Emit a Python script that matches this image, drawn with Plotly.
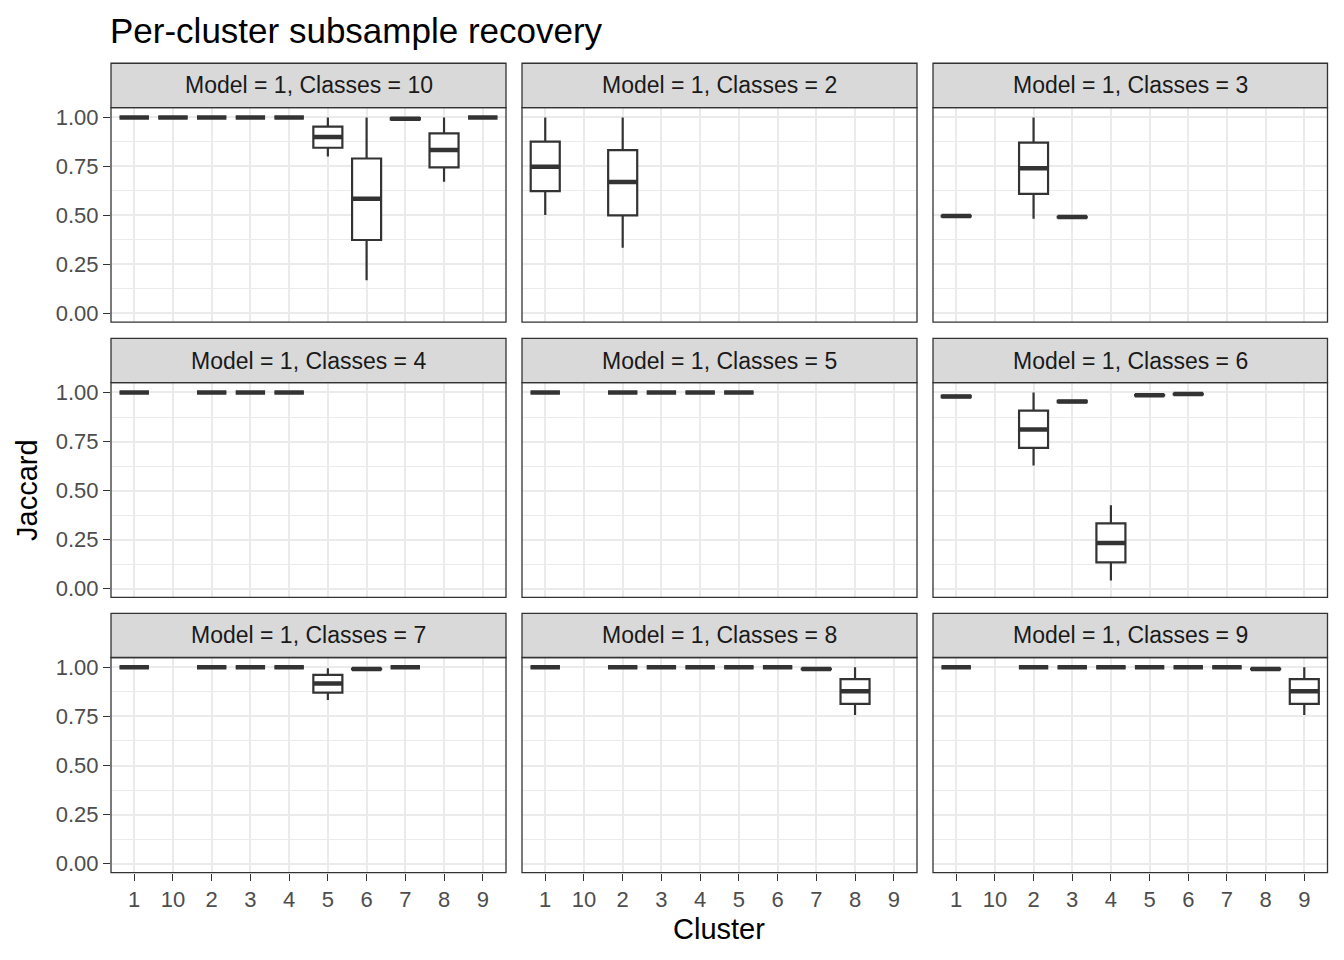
import plotly.graph_objects as go

OFF = 8  # page body margin in the browser
W, H = 1344 - 2 * OFF, 960 - 2 * OFF

categories = ["1", "10", "2", "3", "4", "5", "6", "7", "8", "9"]
panel_classes = [10, 2, 3, 4, 5, 6, 7, 8, 9]
y_tickvals = [0.0, 0.25, 0.5, 0.75, 1.0]
y_ticktext = ["0.00", "0.25", "0.50", "0.75", "1.00"]
y_minor = [0.125, 0.375, 0.625, 0.875]

# long-format boxplot statistics (one entry per box)
row_classes = [10, 10, 10, 10, 10, 10, 10, 10, 10, 10,
               2, 2,
               3, 3, 3,
               4, 4, 4, 4,
               5, 5, 5, 5, 5,
               6, 6, 6, 6, 6, 6,
               7, 7, 7, 7, 7, 7, 7,
               8, 8, 8, 8, 8, 8, 8, 8,
               9, 9, 9, 9, 9, 9, 9, 9, 9]
row_cluster = ["1", "10", "2", "3", "4", "5", "6", "7", "8", "9",
               "1", "2",
               "1", "2", "3",
               "1", "2", "3", "4",
               "1", "2", "3", "4", "5",
               "1", "2", "3", "4", "5", "6",
               "1", "2", "3", "4", "5", "6", "7",
               "1", "2", "3", "4", "5", "6", "7", "8",
               "1", "2", "3", "4", "5", "6", "7", "8", "9"]
row_low = [1.0, 1.0, 1.0, 1.0, 1.0, 0.80, 0.168, 0.99, 0.672, 1.0,
           0.502, 0.335,
           0.492, 0.483, 0.487,
           1.0, 1.0, 1.0, 1.0,
           1.0, 1.0, 1.0, 1.0, 1.0,
           0.975, 0.628, 0.95, 0.041, 0.984, 0.99,
           1.0, 1.0, 1.0, 1.0, 0.833, 0.988, 1.0,
           1.0, 1.0, 1.0, 1.0, 1.0, 1.0, 0.988, 0.757,
           1.0, 1.0, 1.0, 1.0, 1.0, 1.0, 1.0, 0.988, 0.757]
row_q1 = [1.0, 1.0, 1.0, 1.0, 1.0, 0.845, 0.374, 0.99, 0.745, 1.0,
          0.624, 0.50,
          0.495, 0.609, 0.49,
          1.0, 1.0, 1.0, 1.0,
          1.0, 1.0, 1.0, 1.0, 1.0,
          0.976, 0.718, 0.951, 0.134, 0.985, 0.99,
          1.0, 1.0, 1.0, 1.0, 0.871, 0.99, 1.0,
          1.0, 1.0, 1.0, 1.0, 1.0, 1.0, 0.99, 0.814,
          1.0, 1.0, 1.0, 1.0, 1.0, 1.0, 1.0, 0.99, 0.814]
row_med = [1.0, 1.0, 1.0, 1.0, 1.0, 0.90, 0.585, 0.993, 0.833, 1.0,
           0.748, 0.670,
           0.496, 0.74, 0.491,
           1.0, 1.0, 1.0, 1.0,
           1.0, 1.0, 1.0, 1.0, 1.0,
           0.979, 0.811, 0.954, 0.233, 0.986, 0.992,
           1.0, 1.0, 1.0, 1.0, 0.917, 0.991, 1.0,
           1.0, 1.0, 1.0, 1.0, 1.0, 1.0, 0.991, 0.878,
           1.0, 1.0, 1.0, 1.0, 1.0, 1.0, 1.0, 0.991, 0.878]
row_q3 = [1.0, 1.0, 1.0, 1.0, 1.0, 0.953, 0.79, 0.996, 0.918, 1.0,
          0.876, 0.833,
          0.497, 0.871, 0.492,
          1.0, 1.0, 1.0, 1.0,
          1.0, 1.0, 1.0, 1.0, 1.0,
          0.983, 0.908, 0.957, 0.333, 0.987, 0.993,
          1.0, 1.0, 1.0, 1.0, 0.961, 0.992, 1.0,
          1.0, 1.0, 1.0, 1.0, 1.0, 1.0, 0.992, 0.94,
          1.0, 1.0, 1.0, 1.0, 1.0, 1.0, 1.0, 0.992, 0.94]
row_high = [1.0, 1.0, 1.0, 1.0, 1.0, 1.0, 1.0, 1.0, 1.0, 1.0,
            1.0, 1.0,
            0.50, 1.0, 0.495,
            1.0, 1.0, 1.0, 1.0,
            1.0, 1.0, 1.0, 1.0, 1.0,
            0.985, 1.0, 0.96, 0.425, 0.988, 0.995,
            1.0, 1.0, 1.0, 1.0, 0.995, 0.994, 1.0,
            1.0, 1.0, 1.0, 1.0, 1.0, 1.0, 0.994, 1.0,
            1.0, 1.0, 1.0, 1.0, 1.0, 1.0, 1.0, 0.994, 1.0]

# layout geometry (screen pixels of the target)
col_px = [(111, 506), (522, 917), (933, 1327.5)]
row_px = [(108.3, 322.7), (383.3, 598.0), (658.0, 873.0)]
strip_px = [(64.0, 108.3), (339.0, 383.3), (614.0, 658.0)]

# small empirical vertical correction
VA, VS = 2.8, 0.9933


def px_x(x):
    return (x - OFF) / W


def px_y(y):
    yc = (y - VA) / VS
    return 1 - (yc - OFF) / H


DARK = "#333333"
GRID = "#EBEBEB"
FONT = "Liberation Sans"

fig = go.Figure()
layout = dict(
    width=W, height=H, margin=dict(l=0, r=0, t=0, b=0),
    paper_bgcolor="white", plot_bgcolor="white", showlegend=False,
    font=dict(family=FONT, color="#4D4D4D"),
)
shapes = []
annotations = []

for i, cls in enumerate(panel_classes):
    r, c = divmod(i, 3)
    n = i + 1
    xs = "" if n == 1 else str(n)
    idx = [k for k, v in enumerate(row_classes) if v == cls]
    xcat = [row_cluster[k] for k in idx]
    fig.add_trace(go.Box(
        x=xcat,
        q1=[row_q1[k] for k in idx],
        median=[row_med[k] for k in idx],
        q3=[row_q3[k] for k in idx],
        lowerfence=[row_low[k] for k in idx],
        upperfence=[row_high[k] for k in idx],
        xaxis="x" + xs, yaxis="y" + xs,
        fillcolor="white", line=dict(color=DARK, width=2.2),
        whiskerwidth=0, width=0.75, boxpoints=False, hoverinfo="skip",
    ))
    fig.add_trace(go.Scatter(
        x=xcat, y=[row_med[k] for k in idx],
        xaxis="x" + xs, yaxis="y" + xs, mode="markers",
        marker=dict(symbol="line-ew", size=21, color=DARK,
                    line=dict(color=DARK, width=4.5)),
        hoverinfo="skip",
    ))

    x0, x1 = col_px[c]
    y0, y1 = row_px[r]
    bottom = r == 2
    left = c == 0
    layout["xaxis" + xs] = dict(
        domain=[px_x(x0), min(1.0, px_x(x1))], anchor="y" + xs,
        type="category", categoryorder="array", categoryarray=categories,
        range=[-0.6, 9.6], showgrid=True, gridcolor=GRID, gridwidth=1.6,
        zeroline=False, showline=False,
        ticks="outside" if bottom else "", ticklen=7, tickwidth=1.2, tickcolor=DARK,
        showticklabels=bottom, tickfont=dict(size=22, color="#4D4D4D", family=FONT),
        fixedrange=True,
    )
    layout["yaxis" + xs] = dict(
        domain=[px_y(y1), px_y(y0)], anchor="x" + xs,
        range=[-0.045, 1.05], tickmode="array", tickvals=y_tickvals, ticktext=y_ticktext,
        showgrid=True, gridcolor=GRID, gridwidth=1.6, zeroline=False, showline=False,
        minor=dict(tickmode="array", tickvals=y_minor, showgrid=True,
                   gridcolor=GRID, gridwidth=0.8, ticks=""),
        ticks="outside" if left else "", ticklen=7, tickwidth=1.2, tickcolor=DARK,
        showticklabels=left, tickfont=dict(size=22, color="#4D4D4D", family=FONT),
        fixedrange=True,
    )
    # panel border
    shapes.append(dict(type="rect", xref="x" + xs + " domain", yref="y" + xs + " domain",
                       x0=0, x1=1, y0=0, y1=1, line=dict(color=DARK, width=1.3),
                       fillcolor="rgba(0,0,0,0)", layer="above"))
    # strip
    s0, s1 = strip_px[r]
    shapes.append(dict(type="rect", xref="paper", yref="paper",
                       x0=px_x(x0), x1=min(1.0, px_x(x1)), y0=px_y(s1), y1=px_y(s0),
                       line=dict(color=DARK, width=1.3), fillcolor="#D9D9D9", layer="above"))
    annotations.append(dict(
        text=f"Model = 1, Classes = {cls}", xref="paper", yref="paper",
        x=px_x((x0 + x1) / 2), y=px_y((s0 + s1) / 2), xanchor="center", yanchor="middle",
        showarrow=False, font=dict(size=23, color="#1A1A1A", family=FONT),
    ))

annotations.append(dict(text="Per-cluster subsample recovery", xref="paper", yref="paper",
                        x=px_x(109), y=1.0, xanchor="left", yanchor="top",
                        borderpad=0,
                        showarrow=False, font=dict(size=35, color="black", family=FONT)))
annotations.append(dict(text="Cluster", xref="paper", yref="paper",
                        x=px_x(719.5), y=px_y(929), xanchor="center", yanchor="middle",
                        showarrow=False, font=dict(size=29, color="black", family=FONT)))
annotations.append(dict(text="Jaccard", xref="paper", yref="paper",
                        x=px_x(27), y=px_y(490.5), xanchor="center", yanchor="middle",
                        textangle=-90, showarrow=False,
                        font=dict(size=29, color="black", family=FONT)))

layout["shapes"] = shapes
layout["annotations"] = annotations
fig.update_layout(**layout)
fig.write_html("out.html")
